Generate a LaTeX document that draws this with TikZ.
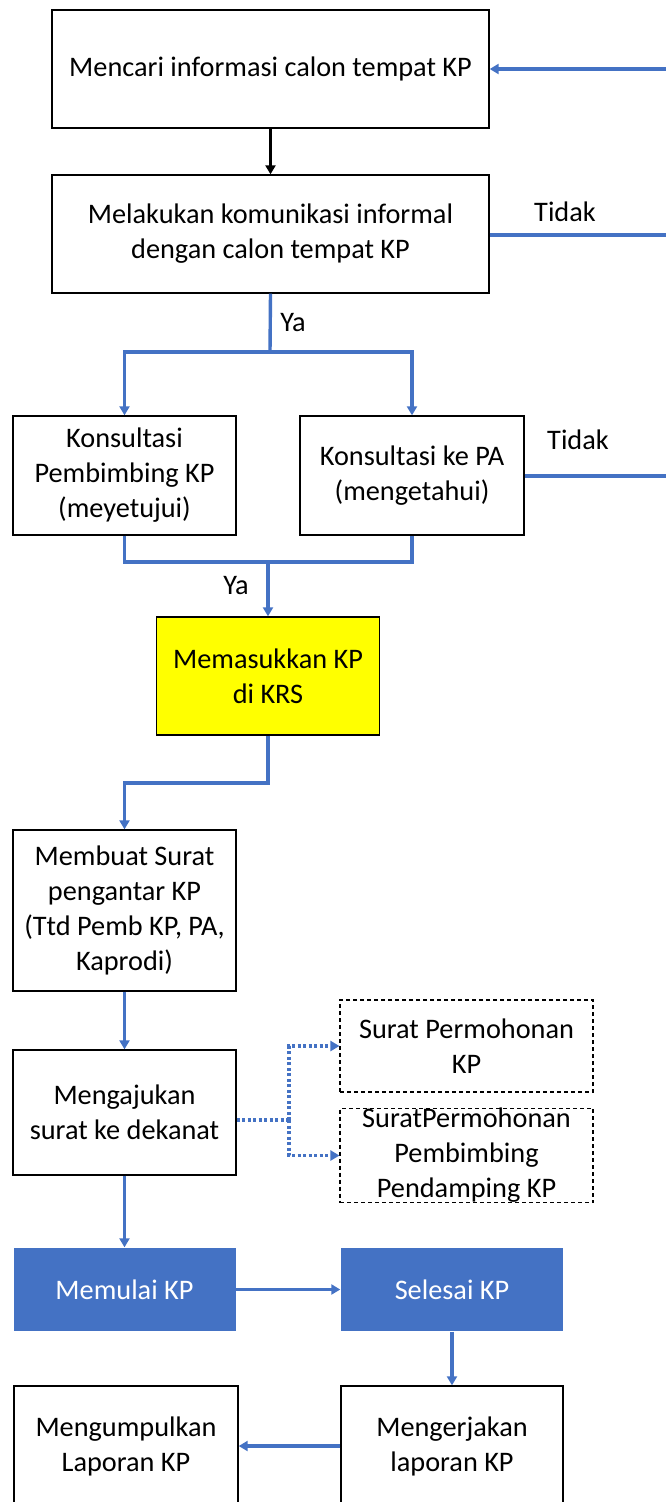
\documentclass[tikz,border=0pt]{standalone}
\usepackage{fontspec}
\setmainfont{Carlito}
\usetikzlibrary{arrows.meta}
\definecolor{bluec}{HTML}{4472C4}
\definecolor{yel}{HTML}{FFFF00}
\tikzset{
  box/.style={draw=black, line width=1.4pt, rectangle, inner sep=0pt, align=center,
    font=\fontsize{28.3}{35}\selectfont},
  dbox/.style={box, line width=1.1pt, dash pattern=on 4pt off 3pt},
  bbox/.style={box, draw=none, fill=bluec, text=white},
  lbl/.style={font=\fontsize{28.3}{35}\selectfont, inner sep=0pt},
  bl/.style={draw=bluec, line width=3.4pt},
  tip/.style={-{Triangle[length=9pt,width=10pt]}},
  dotl/.style={draw=bluec, line width=3.4pt, dash pattern=on 3pt off 2.5pt},
}
\begin{document}
\begin{tikzpicture}[x=1pt,y=-1pt]
\useasboundingbox (0,0) rectangle (666,1502);
\clip (0,0) rectangle (666,1502);
% nodes
\node[box, minimum width=437pt, minimum height=118pt] (b1) at (270.5,69) {Mencari informasi calon tempat KP};
\node[box, minimum width=437pt, minimum height=118pt] (b2) at (270.5,234) {Melakukan komunikasi informal\\dengan calon tempat KP};
\node[box, minimum width=223pt, minimum height=119pt] (b3) at (124.5,475.5) {Konsultasi\\Pembimbing KP\\(meyetujui)};
\node[box, minimum width=224pt, minimum height=119pt] (b4) at (412,475.5) {Konsultasi ke PA\\(mengetahui)};
\node[box, fill=yel, minimum width=223pt, minimum height=118pt] (b5) at (268,676) {Memasukkan KP\\di KRS};
\node[box, minimum width=223pt, minimum height=161pt] (b6) at (124.5,910.5) {Membuat Surat\\pengantar KP\\(Ttd Pemb KP, PA,\\Kaprodi)};
\node[box, minimum width=223pt, minimum height=125pt] (b7) at (124.5,1112.5) {Mengajukan\\surat ke dekanat};
\node[dbox, minimum width=253pt, minimum height=92pt] (b8) at (466.5,1046) {Surat Permohonan\\KP};
\node[dbox, minimum width=253pt, minimum height=91pt] (b9) at (466.5,1155.5) {SuratPermohonan\\Pembimbing\\Pendamping KP};
\node[bbox, minimum width=222pt, minimum height=83pt] (b10) at (124.5,1289.5) {Memulai KP};
\node[bbox, minimum width=222pt, minimum height=83pt] (b11) at (452,1289.5) {Selesai KP};
\node[box, minimum width=222pt, minimum height=120pt] (b12) at (452,1446) {Mengerjakan\\laporan KP};
\node[box, minimum width=224pt, minimum height=120pt] (b13) at (126,1446) {Mengumpulkan\\Laporan KP};
% labels
\node[lbl] (t1) at (565,212) {Tidak};
\node[lbl] (t2) at (578,440) {Tidak};
\node[lbl] (y1) at (293,323) {Ya};
\node[lbl] (y2) at (236,586) {Ya};
% coordinates
\coordinate (r1) at (666,69);
\coordinate (r2) at (666,235);
\coordinate (r3) at (666,476);
\coordinate (s) at (270,352);
\coordinate (m) at (268,562);
\coordinate (k) at (0,783);
\coordinate (d) at (289,1120);
% connectors
\draw[line width=2.4pt, tip] (b1.south) -- (b2.north);
\draw[bl, tip] (r1) -- (b1.east);
\draw[bl] (b2.east |- r2) -- (r2);
\draw[bl] (b4.east |- r3) -- (r3);
\draw[bl] (b2.south) -- (s);
\draw[bl, tip] (s) -| (b3.north);
\draw[bl, tip] (s) -| (b4.north);
\draw[bl] (b3.south) -- (b3.south |- m) -- (b4.south |- m) -- (b4.south);
\draw[bl, tip] (m) -- (b5.north);
\draw[bl, tip] (b5.south) -- (b5.south |- k) -| (b6.north);
\draw[bl, tip] (b6.south) -- (b7.north);
\draw[dotl] (b7.east |- d) -- (d);
\draw[dotl, tip] (d) |- (b8.west);
\draw[dotl, tip] (d) |- (b9.west);
\draw[bl, tip] (b7.south) -- (b10.north);
\draw[bl, tip] (b10.east) -- (b11.west);
\draw[bl, tip] (b11.south) -- (b12.north);
\draw[bl, tip] (b12.west) -- (b13.east);
\end{tikzpicture}
\end{document}
